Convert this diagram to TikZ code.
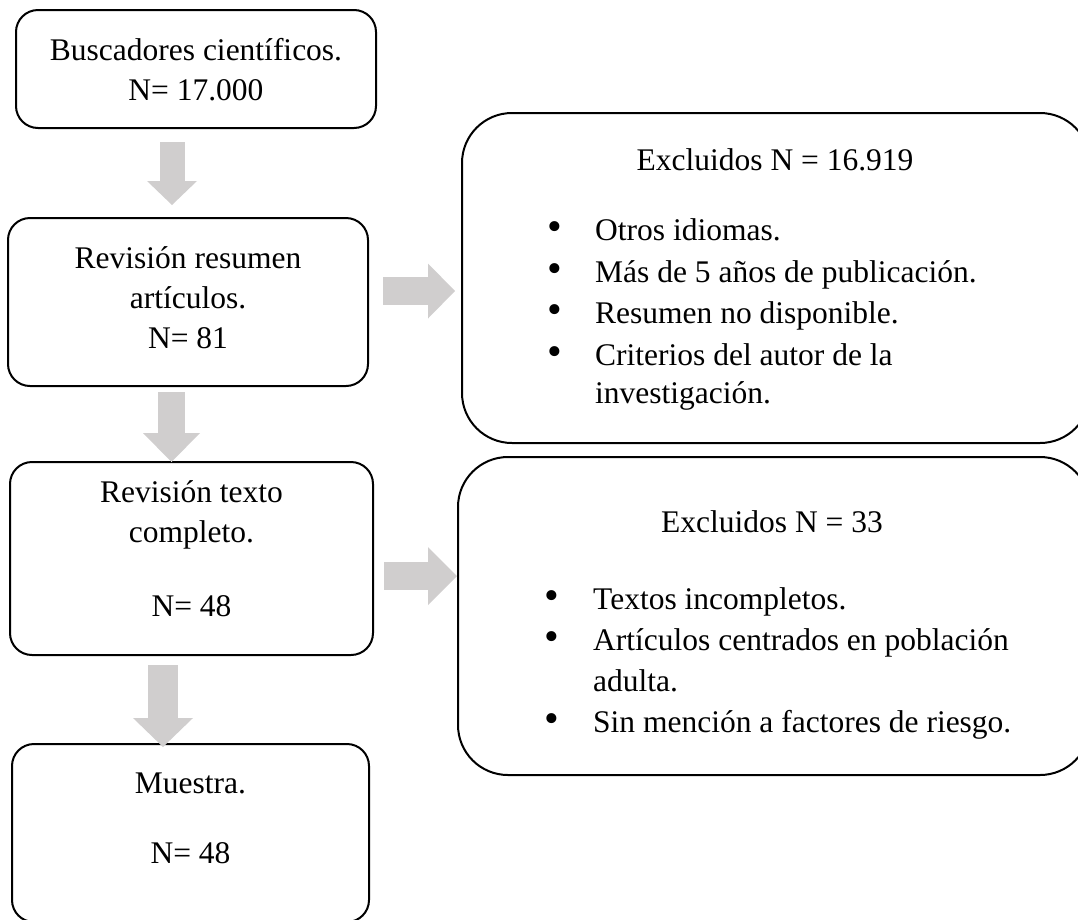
\documentclass[tikz,border=0pt]{standalone}
\usepackage{fontspec}
\setmainfont{Liberation Serif}
\usetikzlibrary{arrows.meta}
\definecolor{arrowgray}{RGB}{208,206,206}
\tikzset{ blk/.style = { rectangle % step box
        , draw
        , line width = 2pt
        , rounded corners = 22pt
        , inner sep = 0pt
        }
        , exc/.style = { rectangle % excluded box
        , draw
        , line width = 2pt
        , rounded corners = 50pt
        , inner sep = 0pt
        }
        , lbl/.style = { align = center % box text, placed at its last baseline
        , anchor = base
        , inner sep = 0pt
        , font = \fontsize{31.5}{40}\selectfont
        }
        , itm/.style = { anchor = base west % list line
        , inner sep = 0pt
        , font = \fontsize{31.5}{41}\selectfont
        }
        , bul/.style = { anchor = base % bullet
        , inner sep = 0pt
        , font = \fontsize{42}{42}\selectfont
        }
        }

\begin{document}
\begin{tikzpicture}[x=1pt, y=-1pt,
        fat/.style n args={3}{draw=arrowgray, line width=#1, -{Triangle[width=#2, length=#3, line width=0pt]}}]
        \useasboundingbox (0,0) rectangle (1078,919);

        % steps
        \node [blk, minimum width=360pt, minimum height=118pt] (b1) at (196,69) {};
        \node [blk, minimum width=360pt, minimum height=168pt] (b2) at (188,302) {};
        \node [blk, minimum width=363pt, minimum height=193pt] (b3) at (191.5,558.5) {};
        \node [blk, minimum width=357pt, minimum height=178pt] (b4) at (190.5,833) {};
        \node [lbl] (t1) at (196,100) {Buscadores científicos.\\N= 17.000};
        \node [lbl] (t2) at (188,348) {Revisión resumen\\artículos.\\N= 81};
        \node [lbl] (t3) at (191.5,616) {Revisión texto\\completo.\\[34pt]N= 48};
        \node [lbl] (t4) at (190.5,863) {Muestra.\\[30pt]N= 48};

        % excluded
        \node [exc, minimum width=628pt, minimum height=330pt] (e1) at (776,278) {};
        \node [exc, minimum width=632pt, minimum height=318pt] (e2) at (774,616) {};
        \node [lbl] (h1) at (775,170) {Excluidos N = 16.919};
        \node [lbl] (h2) at (772,532) {Excluidos N = 33};
        \foreach \y in {240,282,323,365}
            \node [bul] (p1-\y) at (555,\y) {•};
        \foreach \y/\t in {240/Otros idiomas., 282/Más de 5 años de publicación., 323/Resumen no disponible., 365/Criterios del autor de la, 403/investigación.}
            \node [itm] (i1-\y) at (595,\y) {\t};
        \foreach \y in {609,650,732}
            \node [bul] (p2-\y) at (552,\y) {•};
        \foreach \y/\t in {609/Textos incompletos., 650/Artículos centrados en población, 691/adulta., 732/Sin mención a factores de riesgo.}
            \node [itm] (i2-\y) at (593,\y) {\t};

        % arrows
        \coordinate (a1s) at (172,142);
        \coordinate (a1e) at (172,205);
        \coordinate (a2s) at (383,291);
        \coordinate (a2e) at (455,291);
        \coordinate (a3s) at (171.5,392);
        \coordinate (a3e) at (171.5,462);
        \coordinate (a4s) at (384,576);
        \coordinate (a4e) at (457,576);
        \coordinate (a5s) at (163,665);
        \coordinate (a5e) at (163,747);
        \draw [fat={25pt}{50pt}{24pt}] (a1s) -- (a1e);
        \draw [fat={28pt}{55pt}{27pt}] (a2s) -- (a2e);
        \draw [fat={27pt}{57pt}{29pt}] (a3s) -- (a3e);
        \draw [fat={28pt}{58pt}{29pt}] (a4s) -- (a4e);
        \draw [fat={30pt}{60pt}{29pt}] (a5s) -- (a5e);
\end{tikzpicture}
\end{document}
